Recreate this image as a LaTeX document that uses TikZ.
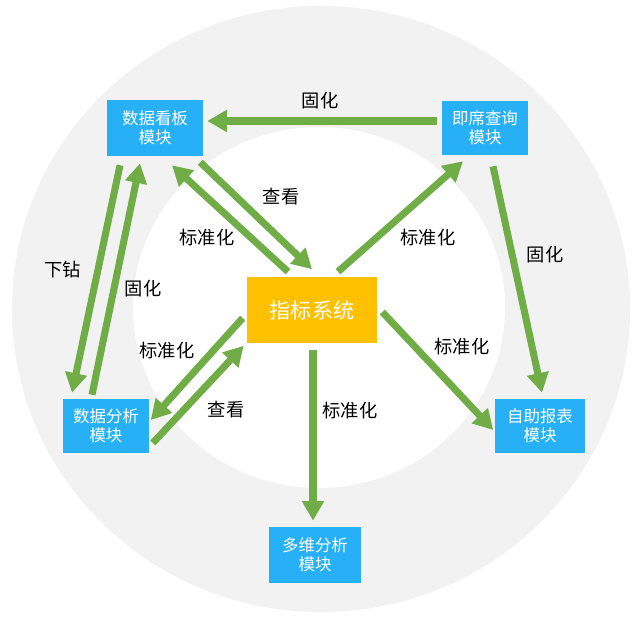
\documentclass[tikz,border=0pt]{standalone}
\usepackage{fontspec}
\newfontfamily\cjk{Noto Sans CJK SC}
\usetikzlibrary{arrows.meta}

\definecolor{boxblue}{HTML}{27B0F6}
\definecolor{sysyellow}{HTML}{FFC000}
\definecolor{arrowgreen}{HTML}{70AD47}
\definecolor{ringgray}{HTML}{F2F2F2}

\tikzset{
	module/.style={fill=boxblue, text=white, align=center, inner sep=0pt, font=\cjk\fontsize{11.7}{13.5}\selectfont},
	flow/.style={draw=arrowgreen, line width=5pt, -{Triangle[length=14pt,width=15pt]}},
	lbl/.style={inner sep=0pt, font=\cjk\fontsize{13}{15}\selectfont}
}

\begin{document}
\begin{tikzpicture}[x=0.025cm, y=-0.025cm]
	\useasboundingbox (0,0) rectangle (640,618);
	% rings
	\fill[ringgray] (321,309) ellipse [x radius=7.725cm, y radius=7.575cm];
	\fill[white] (319,307.5) ellipse [x radius=4.65cm, y radius=4.51cm];
	% nodes
	\node[module, minimum width=2.4cm, minimum height=1.4cm] at (155,128)(kanban){数据看板\\模块};
	\node[module, minimum width=2.15cm, minimum height=1.325cm] at (485,128)(query){即席查询\\模块};
	\node[fill=sysyellow, text=white, inner sep=0pt, minimum width=3.25cm, minimum height=1.625cm, font=\cjk\fontsize{15}{17}\selectfont] at (312,310)(index){指标系统};
	\node[module, minimum width=2.125cm, minimum height=1.35cm] at (106,426)(analysis){数据分析\\模块};
	\node[module, minimum width=2.3cm, minimum height=1.4cm] at (315,555)(olap){多维分析\\模块};
	\node[module, minimum width=2.225cm, minimum height=1.35cm] at (540,426)(report){自助报表\\模块};
	% arrows
	\draw[flow] ([shift={(-5,-7)}]query.west) -- ([shift={(4,-7)}]kanban.east);
	\draw[flow] ([shift={(8,11.5)}]query.south) -- ([shift={(2,-6)}]report.north);
	\draw[flow] ([shift={(26,-5.5)}]index.north) -- ([shift={(-22,6.5)}]query.south);
	\draw[flow] ([shift={(5,2)}]index.east) -- ([shift={(-2,4)}]report.west);
	\draw[flow] ([shift={(1,7.5)}]index.south) -- ([shift={(-2,-6)}]olap.north);
	\draw[flow] ([shift={(-24,-5.5)}]index.north) -- ([shift={(17,9)}]kanban.south);
	\draw[flow] ([shift={(-3,6)}]kanban.south east) -- ([shift={(0,-8)}]index.north);
	\draw[flow] ([shift={(-35,9)}]kanban.south) -- ([shift={(-34,-6)}]analysis.north);
	\draw[flow] ([shift={(-14,-4)}]analysis.north) -- ([shift={(-15,7)}]kanban.south);
	\draw[flow] ([shift={(-4,8)}]index.west) -- ([shift={(2,-6)}]analysis.east);
	\draw[flow] ([shift={(4,17)}]analysis.east) -- ([shift={(-3,3)}]index.south west);
	% labels
	\node[lbl] at (320,101)(fix1){固化};
	\node[lbl] at (545,255)(fix2){固化};
	\node[lbl] at (143,289)(fix3){固化};
	\node[lbl] at (428,238)(std1){标准化};
	\node[lbl] at (462,347)(std2){标准化};
	\node[lbl] at (350,411)(std3){标准化};
	\node[lbl] at (207,238)(std4){标准化};
	\node[lbl] at (167,351)(std5){标准化};
	\node[lbl] at (281,197)(view1){查看};
	\node[lbl] at (226,410)(view2){查看};
	\node[lbl] at (63,270)(drill){下钻};
\end{tikzpicture}
\end{document}
